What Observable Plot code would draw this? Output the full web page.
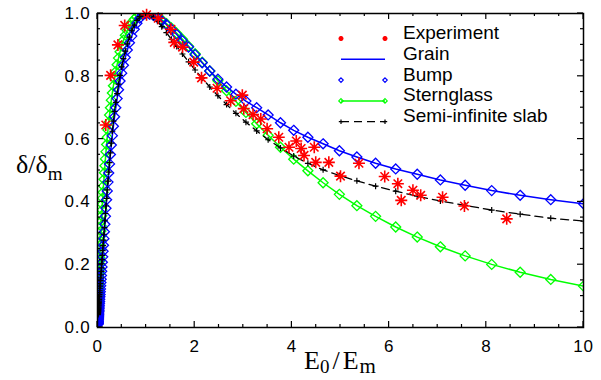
<!DOCTYPE html>
<html><head><meta charset="utf-8">
<script src="https://cdn.jsdelivr.net/npm/d3@7"></script>
<script src="https://cdn.jsdelivr.net/npm/@observablehq/plot@0.6"></script>
<style>body{margin:0;background:#fff}</style>
</head><body><div id="chart"></div>
<script>
// E0/Em sample grid (log spaced, as in the figure)
const energy = [
0.01000,0.01072,0.01150,0.01233,0.01322,0.01417,0.01520,0.01630,0.01748,0.01874,0.02009,0.02154,0.02310,0.02477,0.02656,0.02848,0.03054,0.03275,0.03511,0.03765,0.04037,0.04329,0.04642,0.04977,0.05337,0.05722,0.06136,0.06579,0.07055,0.07565,0.08111,0.08697,0.09326,
0.1000,0.1072,0.1150,0.1233,0.1322,0.1417,0.1520,0.1630,0.1748,0.1874,0.2009,0.2154,0.2310,0.2477,0.2656,0.2848,0.3054,0.3275,0.3511,0.3765,0.4037,0.4329,0.4642,0.4977,0.5337,0.5722,0.6136,0.6579,0.7055,0.7565,0.8111,0.8697,0.9326,
1.000,1.072,1.150,1.233,1.322,1.417,1.520,1.630,1.748,1.874,2.009,2.154,2.310,2.477,2.656,2.848,3.054,3.275,3.511,3.765,4.037,4.329,4.642,4.977,5.337,5.722,6.136,6.579,7.055,7.565,8.111,8.697,9.326,10.00];
const sternglass = [
0.061,0.064,0.069,0.073,0.078,0.083,0.088,0.093,0.099,0.105,0.112,0.119,0.126,0.134,0.142,0.150,0.159,0.169,0.178,0.189,0.200,0.211,0.223,0.235,0.249,0.262,0.276,0.291,0.307,0.323,0.339,0.356,0.374,
0.393,0.412,0.431,0.451,0.472,0.493,0.515,0.537,0.560,0.583,0.606,0.629,0.653,0.677,0.700,0.724,0.747,0.770,0.793,0.815,0.837,0.858,0.878,0.897,0.915,0.931,0.946,0.960,0.972,0.982,0.990,0.995,0.999,
1.000,0.999,0.995,0.989,0.980,0.968,0.954,0.937,0.918,0.896,0.872,0.845,0.817,0.786,0.754,0.720,0.685,0.649,0.612,0.574,0.536,0.499,0.461,0.424,0.388,0.354,0.320,0.288,0.257,0.228,0.201,0.176,0.153,0.132];
const grain = [
0.010,0.012,0.013,0.015,0.017,0.019,0.021,0.024,0.026,0.029,0.032,0.035,0.039,0.042,0.046,0.051,0.055,0.060,0.065,0.071,0.077,0.083,0.090,0.098,0.105,0.114,0.123,0.133,0.143,0.154,0.166,0.179,0.193,
0.208,0.225,0.243,0.262,0.283,0.305,0.329,0.354,0.380,0.407,0.435,0.463,0.492,0.521,0.551,0.581,0.611,0.641,0.671,0.700,0.729,0.757,0.785,0.810,0.835,0.860,0.884,0.907,0.928,0.950,0.969,0.985,0.996,
1.000,0.998,0.994,0.987,0.977,0.965,0.950,0.933,0.913,0.893,0.869,0.843,0.817,0.791,0.766,0.743,0.721,0.700,0.677,0.652,0.628,0.606,0.585,0.563,0.543,0.523,0.505,0.488,0.470,0.453,0.436,0.421,0.407,0.394];
const slab = [
0.041,0.043,0.044,0.046,0.048,0.050,0.052,0.054,0.057,0.059,0.062,0.065,0.069,0.072,0.076,0.080,0.084,0.089,0.094,0.099,0.105,0.111,0.117,0.125,0.132,0.140,0.149,0.158,0.168,0.179,0.190,0.203,0.216,
0.230,0.245,0.261,0.278,0.297,0.318,0.340,0.363,0.387,0.411,0.438,0.466,0.495,0.525,0.556,0.587,0.625,0.657,0.688,0.717,0.745,0.775,0.803,0.830,0.856,0.880,0.903,0.925,0.945,0.963,0.978,0.990,0.998,
1.000,0.997,0.988,0.975,0.958,0.939,0.918,0.895,0.871,0.846,0.820,0.794,0.766,0.738,0.710,0.682,0.654,0.626,0.598,0.572,0.546,0.523,0.502,0.484,0.467,0.450,0.434,0.418,0.403,0.389,0.374,0.361,0.348,0.339];
// experimental points
const expE = [0.17,0.27,0.42,0.56,1.01,1.25,1.51,1.58,1.75,1.98,2.14,2.46,2.74,2.98,3.01,3.20,3.36,3.49,3.73,3.94,4.09,4.19,4.25,4.46,4.49,4.76,5.00,5.38,5.91,6.18,6.25,6.49,6.65,7.10,7.55,8.42];
const expD = [0.645,0.803,0.900,0.962,0.996,0.985,0.950,0.908,0.893,0.845,0.795,0.762,0.722,0.740,0.697,0.678,0.664,0.633,0.606,0.574,0.594,0.570,0.548,0.574,0.526,0.526,0.482,0.523,0.481,0.458,0.405,0.437,0.421,0.415,0.387,0.346];
const xTicks = [0,2,4,6,8,10];
const xTickLabels = ["0","2","4","6","8","10"];
const yTicks = [0,0.2,0.4,0.6,0.8,1.0];
const yTickLabels = ["0.0","0.2","0.4","0.6","0.8","1.0"];
const legendLabels = ["Experiment","Grain","Bump","Sternglass","Semi-infinite slab"];

const curves = energy.map((e,i)=>({e, stern: sternglass[i], grain: grain[i], slab: slab[i]}));
const experiment = expE.map((e,i)=>({e, d: expD[i]}));

const asterisk = {draw(ctx, size){ const r = Math.sqrt(size/Math.PI);
  for(let k=0;k<4;k++){const a=k*Math.PI/4, c=r*Math.cos(a), s=r*Math.sin(a); ctx.moveTo(c,s); ctx.lineTo(-c,-s);} }};
const plus = {draw(ctx,size){const r=Math.sqrt(size/Math.PI); ctx.moveTo(-r,0);ctx.lineTo(r,0);ctx.moveTo(0,-r);ctx.lineTo(0,r);}};

const plot = Plot.plot({
  width: 601, height: 380,
  marginLeft: 97, marginRight: 18, marginTop: 13, marginBottom: 53,
  x: {domain:[0,10]}, y: {domain:[0,1]},
  style: {fontFamily: "'Liberation Sans', Arial, Helvetica, sans-serif", fontSize: "17px", background: "white", color: "black"},
  marks: [
    Plot.axisX({ticks: xTicks, tickFormat: (d,i)=>xTickLabels[i], tickSize: 0, tickPadding: 12, label: null}),
    Plot.axisY({ticks: yTicks, tickFormat: (d,i)=>yTickLabels[i], tickSize: 0, tickPadding: 7, label: null}),
    Plot.line(curves, {x:"e", y:"stern", stroke:"#00ff00", strokeWidth:1.5, clip:true}),
    Plot.dot(curves, {x:"e", y:"stern", symbol:"diamond2", r:4.5, stroke:"#00ff00", strokeWidth:1.3, clip:true}),
    Plot.line(curves, {x:"e", y:"grain", stroke:"#0000ff", strokeWidth:1.5, clip:true}),
    Plot.dot(curves, {x:"e", y:"grain", symbol:"diamond2", r:4.5, stroke:"#0000ff", strokeWidth:1.3, clip:true}),
    Plot.line(curves, {x:"e", y:"slab", stroke:"black", strokeWidth:1.3, strokeDasharray:"8,5", clip:true}),
    Plot.dot(curves, {x:"e", y:"slab", symbol: plus, r:3, stroke:"black", strokeWidth:1.2, clip:true}),
    Plot.dot(experiment, {x:"e", y:"d", symbol: asterisk, r:6, stroke:"#ff0000", strokeWidth:1.6}),
    Plot.frame({stroke:"black", strokeWidth:1.5})
  ]
});
document.getElementById("chart").append(plot);

const sx = plot.scale("x"), sy = plot.scale("y");
const svg = d3.select(plot);
svg.selectAll("g[aria-label='x-axis tick label'] text, g[aria-label='y-axis tick label'] text").attr("letter-spacing", "0.8px");
const x0 = sx.apply(0), x1 = sx.apply(10), y0 = sy.apply(0), y1 = sy.apply(1);
const tg = svg.append("g").attr("stroke","black").attr("stroke-width",1.2);
d3.range(0, 10.001, 0.5).forEach(v => {
  const len = Math.abs(v/2 - Math.round(v/2)) < 1e-6 ? 6 : 3;
  const px = sx.apply(v);
  tg.append("line").attr("x1",px).attr("x2",px).attr("y1",y0).attr("y2",y0-len);
  tg.append("line").attr("x1",px).attr("x2",px).attr("y1",y1).attr("y2",y1+len);
});
d3.range(0, 1.0001, 0.05).forEach(v => {
  const len = Math.abs(v/0.2 - Math.round(v/0.2)) < 1e-6 ? 6 : 3;
  const py = sy.apply(v);
  tg.append("line").attr("y1",py).attr("y2",py).attr("x1",x0).attr("x2",x0+len);
  tg.append("line").attr("y1",py).attr("y2",py).attr("x1",x1).attr("x2",x1-len);
});

// legend
const lg = svg.append("g").attr("text-anchor","start");
const lx1 = 341, lx2 = 385, ltx = 403, ly0 = 38.5, ldy = 20.8;
const sym = (type, r) => d3.symbol(type, Math.PI*r*r)();
legendLabels.forEach((lab, i) => {
  const y = ly0 + i*ldy;
  lg.append("text").attr("x", ltx).attr("y", y+0.5).attr("font-size", 19).attr("fill","black").text(lab);
  if (i === 0) {
    [lx1,lx2].forEach(x => lg.append("path").attr("d", sym(asterisk, 2.5)).attr("transform",`translate(${x},${y})`).attr("stroke","#ff0000").attr("stroke-width",1.6).attr("fill","none"));
  } else if (i === 1) {
    lg.append("line").attr("x1",lx1).attr("x2",lx2).attr("y1",y).attr("y2",y).attr("stroke","#0000ff").attr("stroke-width",1.5);
  } else if (i === 2) {
    [lx1,lx2].forEach(x => lg.append("path").attr("d", sym(d3.symbolDiamond2, 2)).attr("transform",`translate(${x},${y})`).attr("stroke","#0000ff").attr("stroke-width",1.2).attr("fill","none"));
  } else if (i === 3) {
    lg.append("line").attr("x1",lx1).attr("x2",lx2).attr("y1",y).attr("y2",y).attr("stroke","#00ff00").attr("stroke-width",1.5);
    [lx1,lx2].forEach(x => lg.append("path").attr("d", sym(d3.symbolDiamond2, 2)).attr("transform",`translate(${x},${y})`).attr("stroke","#00ff00").attr("stroke-width",1.2).attr("fill","none"));
  } else {
    lg.append("line").attr("x1",lx1).attr("x2",lx2).attr("y1",y).attr("y2",y).attr("stroke","black").attr("stroke-width",1.3).attr("stroke-dasharray","8,5");
    [lx1,lx2].forEach(x => lg.append("path").attr("d", sym(plus, 2.2)).attr("transform",`translate(${x},${y})`).attr("stroke","black").attr("stroke-width",1.2).attr("fill","none"));
  }
});

// axis titles
const serif = "'Liberation Serif', 'Times New Roman', serif";
const yt = svg.append("text").attr("x", 16).attr("y", 173).attr("text-anchor","start").attr("font-family", serif).attr("font-size", 26).attr("fill","black");
yt.append("tspan").text("δ/δ");
yt.append("tspan").attr("dy", 7).attr("font-size", 19).text("m");
const xt = svg.append("text").attr("x", (x0+x1)/2).attr("y", 369).attr("text-anchor","middle").attr("font-family", serif).attr("font-size", 26).attr("fill","black");
xt.append("tspan").text("E");
xt.append("tspan").attr("dy", 4).attr("font-size", 19).text("0");
xt.append("tspan").attr("dy", -4).attr("dx", 3).text("/");
xt.append("tspan").attr("dx", 3).text("E");
xt.append("tspan").attr("dy", 4).attr("dx", 1).attr("font-size", 21).text("m");
</script></body></html>
